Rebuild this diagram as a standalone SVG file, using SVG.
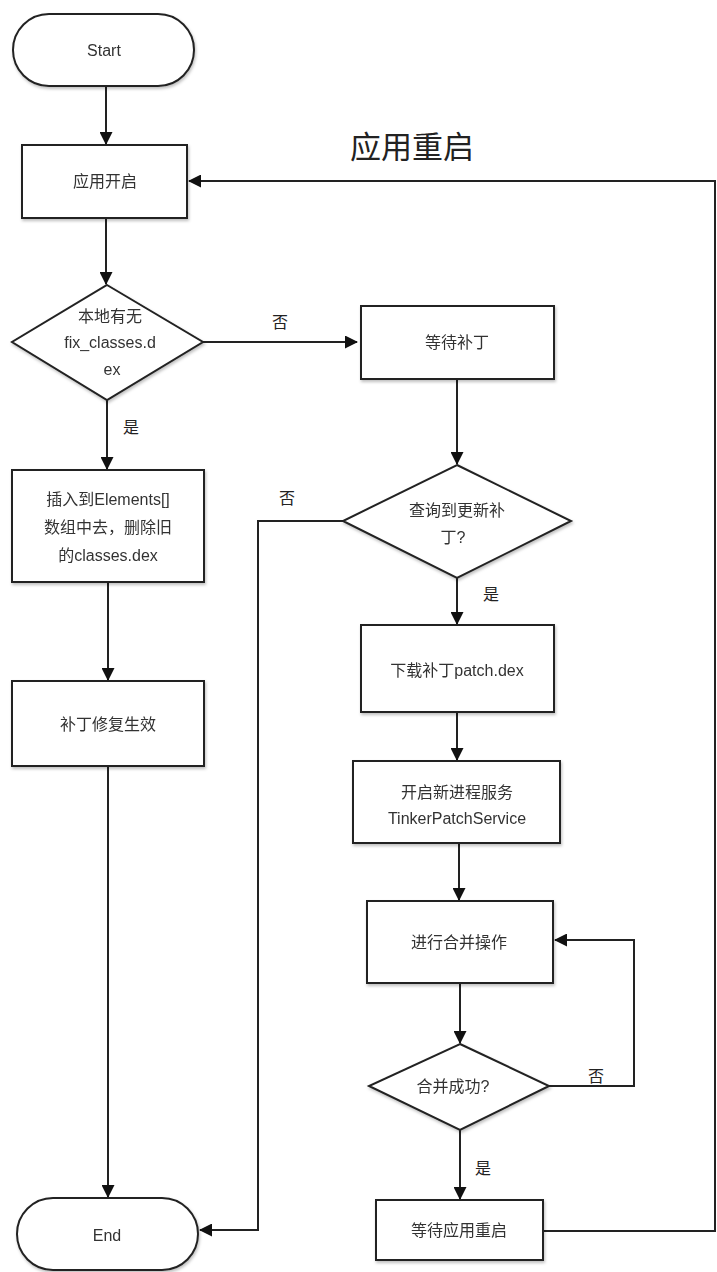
<svg xmlns="http://www.w3.org/2000/svg" width="717" height="1272" viewBox="0 0 717 1272">
<style>
.shape{fill:#fff;stroke:#222;stroke-width:2}
.t{font-family:"Liberation Sans","Noto Sans CJK SC",sans-serif;font-size:16px;fill:#333;text-anchor:middle}
.lbl{font-family:"Liberation Sans","Noto Sans CJK SC",sans-serif;font-size:16px;fill:#222;text-anchor:middle}
.title{font-family:"Noto Sans CJK SC",sans-serif;font-size:31px;fill:#222;text-anchor:middle}
.c{fill:none;stroke:#222;stroke-width:2}
</style>
<defs>
<marker id="ah" viewBox="0 0 13 13" refX="12" refY="6.5" markerWidth="13" markerHeight="13" markerUnits="userSpaceOnUse" orient="auto">
<path d="M0,0 L13,6.5 L0,13 Z" fill="#111"/>
</marker>
<filter id="sh" x="-10%" y="-10%" width="125%" height="130%">
<feDropShadow dx="1" dy="2" stdDeviation="1.5" flood-color="#000" flood-opacity="0.25"/>
</filter>
</defs>
<rect width="717" height="1272" fill="#fff"/>
<text class="title" x="412" y="158">应用重启</text>
<g id="connectors">
<line class="c" x1="106" y1="86" x2="106" y2="144" marker-end="url(#ah)"/>
<line class="c" x1="106" y1="218" x2="106" y2="284" marker-end="url(#ah)"/>
<line class="c" x1="203" y1="342" x2="357" y2="342" marker-end="url(#ah)"/>
<text class="lbl" x="280" y="328">否</text>
<line class="c" x1="107" y1="400" x2="107" y2="469" marker-end="url(#ah)"/>
<text class="lbl" x="131" y="433">是</text>
<line class="c" x1="108" y1="582" x2="108" y2="680" marker-end="url(#ah)"/>
<line class="c" x1="108" y1="766" x2="108" y2="1197" marker-end="url(#ah)"/>
<line class="c" x1="457" y1="379" x2="457" y2="464" marker-end="url(#ah)"/>
<polyline class="c" points="343,521 258,521 258,1230 200,1230" marker-end="url(#ah)"/>
<text class="lbl" x="287" y="504">否</text>
<line class="c" x1="457" y1="578" x2="457" y2="624" marker-end="url(#ah)"/>
<text class="lbl" x="491" y="600">是</text>
<line class="c" x1="457" y1="712" x2="457" y2="760" marker-end="url(#ah)"/>
<line class="c" x1="459" y1="843" x2="459" y2="900" marker-end="url(#ah)"/>
<line class="c" x1="460" y1="983" x2="460" y2="1043" marker-end="url(#ah)"/>
<polyline class="c" points="549,1086 634,1086 634,940 555,940" marker-end="url(#ah)"/>
<text class="lbl" x="596" y="1082">否</text>
<line class="c" x1="460" y1="1130" x2="460" y2="1199" marker-end="url(#ah)"/>
<text class="lbl" x="483" y="1174">是</text>
<polyline class="c" points="543,1231 715,1231 715,181 189,181" marker-end="url(#ah)"/>
</g>
<g id="start" filter="url(#sh)">
<rect class="shape" x="13" y="14" width="181" height="72" rx="36"/>
<text class="t" x="104" y="56">Start</text>
</g>
<g id="app-start" filter="url(#sh)">
<rect class="shape" x="22" y="145" width="165" height="73"/>
<text class="t" x="105" y="187">应用开启</text>
</g>
<g id="check-local" filter="url(#sh)">
<polygon class="shape" points="107,285 203,342 107,400 12,342"/>
<text class="t" x="110" y="322">本地有无</text>
<text class="t" x="110" y="348">fix_classes.d</text>
<text class="t" x="112" y="375">ex</text>
</g>
<g id="insert" filter="url(#sh)">
<rect class="shape" x="12" y="470" width="192" height="112"/>
<text class="t" x="108" y="505">插入到Elements[]</text>
<text class="t" x="108" y="533">数组中去，删除旧</text>
<text class="t" x="108" y="561">的classes.dex</text>
</g>
<g id="patch-effective" filter="url(#sh)">
<rect class="shape" x="12" y="681" width="192" height="85"/>
<text class="t" x="108" y="730">补丁修复生效</text>
</g>
<g id="end" filter="url(#sh)">
<rect class="shape" x="17" y="1198" width="181" height="72" rx="36"/>
<text class="t" x="107" y="1241">End</text>
</g>
<g id="wait-patch" filter="url(#sh)">
<rect class="shape" x="361" y="306" width="193" height="73"/>
<text class="t" x="457" y="348">等待补丁</text>
</g>
<g id="query-patch" filter="url(#sh)">
<polygon class="shape" points="457,465 571,521 457,578 343,521"/>
<text class="t" x="457" y="516">查询到更新补</text>
<text class="t" x="453" y="543">丁?</text>
</g>
<g id="download" filter="url(#sh)">
<rect class="shape" x="361" y="625" width="193" height="87"/>
<text class="t" x="457" y="676">下载补丁patch.dex</text>
</g>
<g id="new-process" filter="url(#sh)">
<rect class="shape" x="353" y="761" width="207" height="82"/>
<text class="t" x="457" y="798">开启新进程服务</text>
<text class="t" x="457" y="824">TinkerPatchService</text>
</g>
<g id="merge" filter="url(#sh)">
<rect class="shape" x="367" y="901" width="186" height="82"/>
<text class="t" x="459" y="948">进行合并操作</text>
</g>
<g id="merge-ok" filter="url(#sh)">
<polygon class="shape" points="460,1044 549,1086 460,1130 369,1086"/>
<text class="t" x="453" y="1092">合并成功?</text>
</g>
<g id="wait-restart" filter="url(#sh)">
<rect class="shape" x="376" y="1200" width="167" height="60"/>
<text class="t" x="459" y="1236">等待应用重启</text>
</g>
</svg>
